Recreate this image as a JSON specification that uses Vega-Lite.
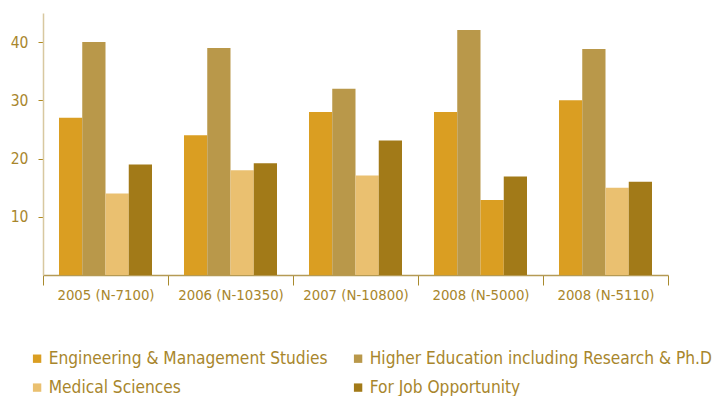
{
  "$schema": "https://vega.github.io/schema/vega-lite/v6.json",
  "width": 625,
  "height": 262,
  "autosize": {"type": "none"},
  "padding": {"left": 43, "top": 13, "right": 51, "bottom": 121},
  "config": {
    "view": {"stroke": null},
    "font": "'Liberation Sans Narrow', 'DejaVu Sans Condensed', sans-serif"
  },
  "data": {
    "values": [
      {"year": "2005 (N-7100)", "series": "Engineering & Management Studies", "pct": 27},
      {"year": "2005 (N-7100)", "series": "Higher Education including Research & Ph.D", "pct": 40},
      {"year": "2005 (N-7100)", "series": "Medical Sciences", "pct": 14},
      {"year": "2005 (N-7100)", "series": "For Job Opportunity", "pct": 19},
      {"year": "2006 (N-10350)", "series": "Engineering & Management Studies", "pct": 24},
      {"year": "2006 (N-10350)", "series": "Higher Education including Research & Ph.D", "pct": 39},
      {"year": "2006 (N-10350)", "series": "Medical Sciences", "pct": 18},
      {"year": "2006 (N-10350)", "series": "For Job Opportunity", "pct": 19.2},
      {"year": "2007 (N-10800)", "series": "Engineering & Management Studies", "pct": 28},
      {"year": "2007 (N-10800)", "series": "Higher Education including Research & Ph.D", "pct": 32},
      {"year": "2007 (N-10800)", "series": "Medical Sciences", "pct": 17.1},
      {"year": "2007 (N-10800)", "series": "For Job Opportunity", "pct": 23.1},
      {"year": "2008 (N-5000)", "series": "Engineering & Management Studies", "pct": 28},
      {"year": "2008 (N-5000)", "series": "Higher Education including Research & Ph.D", "pct": 42.1},
      {"year": "2008 (N-5000)", "series": "Medical Sciences", "pct": 12.9},
      {"year": "2008 (N-5000)", "series": "For Job Opportunity", "pct": 16.9},
      {"year": "2008 (N-5110)", "series": "Engineering & Management Studies", "pct": 30},
      {"year": "2008 (N-5110)", "series": "Higher Education including Research & Ph.D", "pct": 38.8},
      {"year": "2008 (N-5110)", "series": "Medical Sciences", "pct": 15},
      {"year": "2008 (N-5110)", "series": "For Job Opportunity", "pct": 16}
    ]
  },
  "mark": {"type": "bar"},
  "encoding": {
    "x": {
      "field": "year",
      "type": "nominal",
      "sort": null,
      "title": null,
      "scale": {"paddingInner": 0, "paddingOuter": 0},
      "axis": {
        "labelAngle": 0,
        "labelFontSize": 14.8,
        "labelColor": "#A8862C",
        "labelPadding": 2,
        "tickBand": "extent",
        "tickSize": 10,
        "tickColor": "#A88A2E",
        "domainColor": "#B59A55",
        "domainWidth": 1.5
      }
    },
    "xOffset": {
      "field": "series",
      "type": "nominal",
      "sort": null,
      "scale": {"paddingInner": 0, "paddingOuter": 0.688}
    },
    "y": {
      "field": "pct",
      "type": "quantitative",
      "title": null,
      "scale": {"domain": [0, 45], "nice": false},
      "axis": {
        "values": [10, 20, 30, 40],
        "grid": false,
        "labelFontSize": 15.5,
        "labelColor": "#A8862C",
        "labelPadding": 10,
        "tickSize": 5,
        "tickColor": "#B08A20",
        "domainColor": "#D8C8A0",
        "domainWidth": 1.5
      }
    },
    "color": {
      "condition": {
        "test": "datum.year === '2008 (N-5000)' && datum.series === 'Medical Sciences'",
        "value": "#DA9E22"
      },
      "field": "series",
      "type": "nominal",
      "sort": null,
      "scale": {
        "domain": [
          "Engineering & Management Studies",
          "Higher Education including Research & Ph.D",
          "Medical Sciences",
          "For Job Opportunity"
        ],
        "range": ["#DA9E22", "#B9984A", "#EAC070", "#A27A18"]
      },
      "legend": {
        "title": null,
        "orient": "none",
        "direction": "horizontal",
        "legendX": -14.5,
        "legendY": 337,
        "columns": 2,
        "columnPadding": 21,
        "rowPadding": 11,
        "symbolType": "square",
        "symbolSize": 70,
        "symbolStrokeWidth": 0,
        "symbolOpacity": 1,
        "labelFontSize": 17.2,
        "labelColor": "#A8862C",
        "labelOffset": 3,
        "labelLimit": 0
      }
    }
  }
}
